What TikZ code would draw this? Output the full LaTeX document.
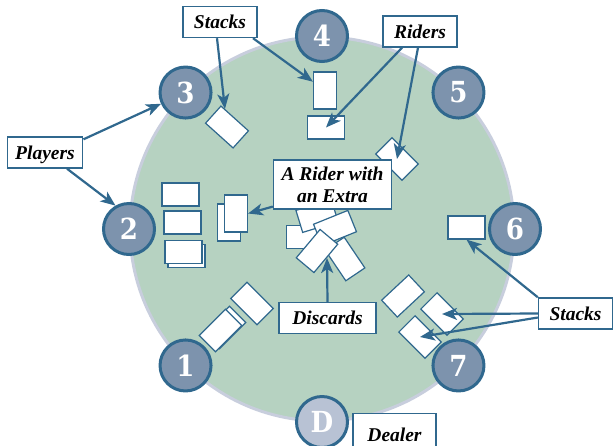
\documentclass[tikz,border=0pt]{standalone}
\usepackage{fontspec}
\setmainfont{Liberation Serif}
\newfontfamily\seatfont{DejaVu Serif Condensed}
\usetikzlibrary{arrows.meta,calc}
\definecolor{tablegreen}{RGB}{182,210,193}
\definecolor{tableedge}{RGB}{200,206,221}
\definecolor{seatfill}{RGB}{125,147,173}
\definecolor{dealerfill}{RGB}{184,194,212}
\definecolor{linecol}{RGB}{48,104,142}
\tikzset{
  card/.style={draw=linecol, fill=white, line width=1.2pt, minimum width=37pt, minimum height=23pt, inner sep=0pt},
  cardv/.style={card, minimum width=23pt, minimum height=37pt},
  seat/.style={circle, draw=linecol, line width=3pt, fill=seatfill, minimum size=51pt, inner sep=0pt, text=white, font=\seatfont\bfseries\fontsize{29}{29}\selectfont},
  lbl/.style={draw=linecol, fill=white, line width=1.4pt, font=\bfseries\itshape\fontsize{19.5}{22}\selectfont, inner xsep=8pt, inner ysep=5pt, minimum width=74pt, text height=17pt, text depth=4pt},
  pointer/.style={draw=linecol, line width=2.2pt, -{Stealth[length=15pt,width=12pt,inset=4pt]}}
}
\begin{document}
\begin{tikzpicture}[x=1pt,y=-1pt]
\useasboundingbox (0,0) rectangle (613,445);
\node (table) [circle, draw=tableedge, line width=3pt, fill=tablegreen, minimum size=384pt] at (322,229) {};

\node[cardv] (c4a) at (325,90.5) {};
\node[card] (c4b) at (326,127.5) {};
\node[card, rotate=-42] (c3) at (227,127) {};
\node[card, rotate=-45] (c5) at (397,159) {};
\node[card] (c6) at (466.5,227.5) {};
\node[card, rotate=43] (c7a) at (403,296) {};
\node[card, rotate=-45] (c7b) at (442,314) {};
\node[card, rotate=-45] (c7c) at (420,337) {};
\node[card] (c2a) at (180.5,194.5) {};
\node[card] (c2b) at (182.5,222.5) {};
\node[card] (c2c) at (186.5,256) {};
\node[card] (c2d) at (183.5,252) {};
\node[cardv] (c2e) at (229,222.5) {};
\node[cardv] (c2f) at (236,213.5) {};
\node[card, rotate=45] (c1a) at (224.5,327.5) {};
\node[card, rotate=45] (c1b) at (220.5,330.5) {};
\node[card, rotate=-45] (c1c) at (252,303.5) {};

\node[card] (disc1) at (305,237) {};
\node[card, rotate=-56] (disc2) at (345,259) {};
\node[card, rotate=17] (disc3) at (317,216) {};
\node[card, rotate=22] (disc4) at (335,228) {};
\node[card, rotate=50] (disc5) at (317,251) {};
\coordinate (pile) at (327,258);

\foreach \n/\a in {1/135,2/180,3/-135,4/-90,5/-45,6/0,7/45}
  \node[seat] (seat\n) at ($(table.center)+(\a:193)$) {\n};
\node[seat, fill=dealerfill] (seatD) at ($(table.center)+(90:193)$) {D};

\node[lbl] (stacksT) at (220,22) {Stacks};
\node[lbl] (players) at (45,152.5) {Players};
\node[lbl] (riders) at (420,31.5) {Riders};
\node[lbl, text height={}, text depth={}, inner ysep=6.5pt, align=center] (extra) at (332.5,184.5) {A Rider with\\an Extra};
\node[lbl, minimum width=97pt] (discards) at (327.5,318) {Discards};
\node[lbl] (stacksR) at (575.5,313.5) {Stacks};
\node[lbl, minimum width=83pt, minimum height=42pt, anchor=north] (dealer) at (394.5,413) {Dealer};

\draw[pointer] ([yshift=-3pt]players.north east) -- (seat3);
\draw[pointer] ([xshift=22pt]players.south) -- (seat2.120);
\draw[pointer] ([xshift=-3pt]stacksT.south) -- (c3);
\draw[pointer] ([xshift=33pt]stacksT.south) -- (c4a);
\draw[pointer] ([xshift=-18pt]riders.south) -- (c4b.center);
\draw[pointer] ([xshift=-2pt]riders.south) -- (c5.center);
\draw[pointer] ([yshift=3pt]extra.south west) -- (c2f.east);
\draw[pointer] (discards.north) -- (pile);
\draw[pointer] (stacksR.north west) -- (c6.south);
\draw[pointer] (stacksR.west) -- (c7b.center);
\draw[pointer] ([yshift=-4pt]stacksR.west) -- (c7c.center);
\end{tikzpicture}
\end{document}
